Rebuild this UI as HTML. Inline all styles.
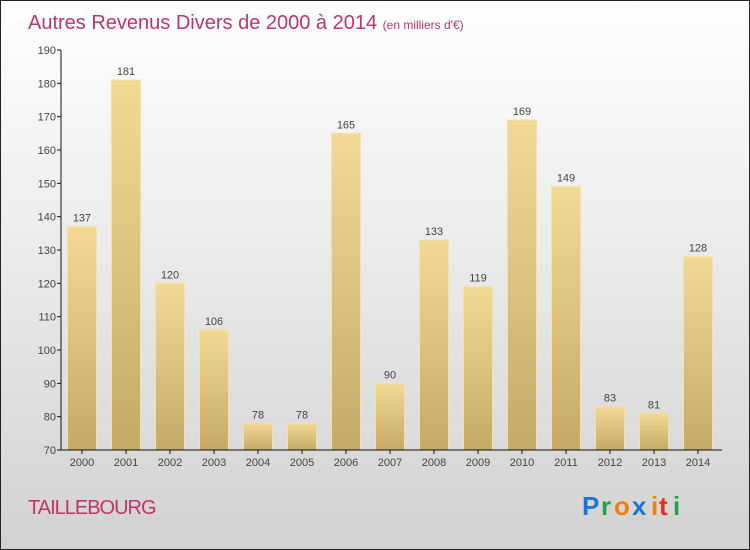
<!DOCTYPE html>
<html><head><meta charset="utf-8"><style>
body{margin:0;width:750px;height:550px;overflow:hidden}
svg{display:block}
text{font-family:"Liberation Sans",sans-serif}
</style></head><body>
<svg width="750" height="550">
<defs>
<linearGradient id="bg" x1="0" y1="0" x2="0" y2="1"><stop offset="0" stop-color="#ffffff"/><stop offset="1" stop-color="#d2d2d2"/></linearGradient>
<linearGradient id="bar" x1="0" y1="0" x2="0" y2="1"><stop offset="0" stop-color="#f2da94"/><stop offset="1" stop-color="#c4aa66"/></linearGradient>
</defs>
<rect x="0.5" y="0.5" width="749" height="549" fill="url(#bg)" stroke="#222"/>
<text x="28" y="29" font-size="20" fill="#c2336a">Autres Revenus Divers de 2000 à 2014 <tspan font-size="12">(en milliers d'€)</tspan></text>
<g id="yaxis"></g>
<g id="bars"></g>
<text x="28" y="514" font-size="20" fill="#c2336a" letter-spacing="-1">TAILLEBOURG</text>
<g font-size="26" font-family="Liberation Sans" font-weight="bold">
<text x="582" y="515" fill="#1a77d2">P</text><text x="601" y="515" fill="#22a34a">r</text><text x="614" y="515" fill="#f08010">o</text><text x="632" y="515" fill="#1a77d2">x</text><text x="651" y="515" fill="#f08010">i</text><text x="659" y="515" fill="#e03020">t</text><text x="673" y="515" fill="#22a34a">i</text>
</g>
</svg>
<script>
const categories=["2000","2001","2002","2003","2004","2005","2006","2007","2008","2009","2010","2011","2012","2013","2014"];
const values=[137,181,120,106,78,78,165,90,133,119,169,149,83,81,128];
const yTicks=[70,80,90,100,110,120,130,140,150,160,170,180,190];
const NS="http://www.w3.org/2000/svg";
const y=v=>450-(v-70)*400/120;
const x=i=>82+i*44;
function mk(t,a,p){const e=document.createElementNS(NS,t);for(const k in a)e.setAttribute(k,a[k]);p.appendChild(e);return e;}
const ya=document.getElementById('yaxis'),bg=document.getElementById('bars');
let l=mk('line',{x1:61,y1:50,x2:61,y2:450,stroke:'#111'},ya);


yTicks.forEach(t=>{
 const tk=mk('line',{x1:57,y1:y(t),x2:61,y2:y(t),stroke:'#111'},ya);
 
 
 const tx=mk('text',{x:56,y:y(t)+4,'font-size':11,fill:'#444','text-anchor':'end'},ya);
 tx.textContent=t;
 
 
});
values.forEach((v,i)=>{
 const r=mk('rect',{x:x(i)-14.5,y:y(v),width:29,height:450-y(v),fill:'url(#bar)',stroke:'#f5e1a0','stroke-width':1},bg);
 
 
 const t=mk('text',{x:x(i),y:y(v)-5,'font-size':11,fill:'#444','text-anchor':'middle'},bg);
 t.textContent=v;
 
 
 const tk=mk('line',{x1:x(i),y1:450,x2:x(i),y2:454,stroke:'#111'},bg);
 
 
 const c=mk('text',{x:x(i),y:466,'font-size':11,fill:'#444','text-anchor':'middle'},bg);
 c.textContent=categories[i];
 
 
});
const xa=mk('line',{x1:61,y1:450,x2:722,y2:450,stroke:'#111'},bg);


</script>
</body></html>
